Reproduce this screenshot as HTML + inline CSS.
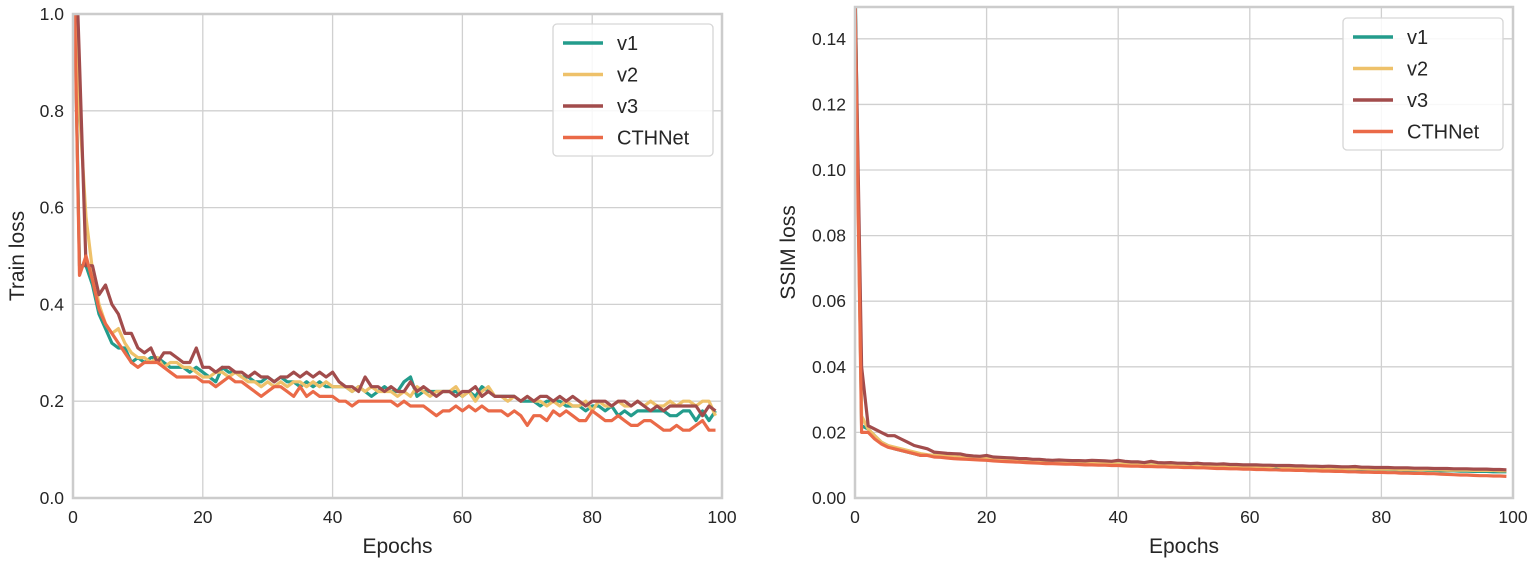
<!DOCTYPE html>
<html><head><meta charset="utf-8"><style>
body{margin:0;background:#fff;}
svg text{font-family:"Liberation Sans",sans-serif;fill:#262626;}
</style></head><body>
<svg id="chart" width="1535" height="562" xmlns="http://www.w3.org/2000/svg"></svg>
<script>
const epochs=[];for(let i=0;i<100;i++)epochs.push(i);
const seriesNames=["v1","v2","v3","CTHNet"];
const colors=["#239c8c","#eec16a","#a24c4c","#ea6a48"];
const trainV1=[1.2,0.48,0.48,0.44,0.38,0.35,0.32,0.31,0.31,0.28,0.29,0.28,0.29,0.29,0.28,0.27,0.27,0.27,0.26,0.27,0.26,0.25,0.24,0.27,0.26,0.26,0.25,0.25,0.24,0.24,0.25,0.24,0.25,0.24,0.24,0.23,0.24,0.23,0.24,0.23,0.23,0.23,0.23,0.22,0.23,0.22,0.21,0.22,0.23,0.22,0.22,0.24,0.25,0.21,0.22,0.22,0.22,0.22,0.22,0.22,0.21,0.22,0.21,0.23,0.22,0.21,0.21,0.21,0.21,0.20,0.20,0.20,0.19,0.20,0.20,0.20,0.19,0.19,0.19,0.18,0.19,0.19,0.18,0.19,0.17,0.18,0.17,0.18,0.18,0.18,0.18,0.18,0.17,0.17,0.18,0.18,0.16,0.18,0.16,0.18];
const trainV2=[1.3,0.8,0.58,0.47,0.40,0.36,0.34,0.35,0.32,0.30,0.29,0.29,0.28,0.29,0.27,0.28,0.28,0.27,0.27,0.26,0.25,0.25,0.26,0.26,0.25,0.26,0.25,0.24,0.24,0.23,0.24,0.23,0.24,0.23,0.24,0.24,0.23,0.24,0.23,0.24,0.23,0.23,0.23,0.22,0.23,0.22,0.23,0.22,0.22,0.22,0.21,0.22,0.21,0.23,0.22,0.21,0.22,0.22,0.22,0.23,0.21,0.22,0.20,0.22,0.23,0.21,0.21,0.20,0.21,0.20,0.21,0.20,0.20,0.19,0.20,0.19,0.20,0.19,0.19,0.20,0.18,0.20,0.19,0.19,0.20,0.19,0.19,0.20,0.19,0.20,0.19,0.19,0.20,0.19,0.20,0.20,0.19,0.20,0.20,0.17];
const trainV3=[1.3,0.9,0.48,0.48,0.42,0.44,0.40,0.38,0.34,0.34,0.31,0.30,0.31,0.28,0.30,0.30,0.29,0.28,0.28,0.31,0.27,0.27,0.26,0.27,0.27,0.26,0.26,0.25,0.26,0.25,0.25,0.24,0.25,0.25,0.26,0.25,0.26,0.25,0.26,0.25,0.26,0.24,0.23,0.23,0.22,0.25,0.23,0.23,0.22,0.23,0.22,0.22,0.24,0.22,0.23,0.22,0.21,0.22,0.22,0.21,0.22,0.22,0.23,0.21,0.22,0.21,0.21,0.21,0.21,0.20,0.21,0.20,0.21,0.21,0.20,0.21,0.20,0.21,0.20,0.19,0.20,0.20,0.20,0.19,0.20,0.20,0.19,0.20,0.19,0.18,0.19,0.18,0.19,0.19,0.19,0.19,0.19,0.17,0.19,0.18];
const trainCTH=[1.2,0.46,0.50,0.45,0.39,0.36,0.34,0.32,0.30,0.28,0.27,0.28,0.28,0.28,0.27,0.26,0.25,0.25,0.25,0.25,0.24,0.24,0.23,0.24,0.25,0.24,0.24,0.23,0.22,0.21,0.22,0.23,0.23,0.22,0.21,0.23,0.21,0.22,0.21,0.21,0.21,0.20,0.20,0.19,0.20,0.20,0.20,0.20,0.20,0.20,0.19,0.20,0.19,0.19,0.19,0.18,0.17,0.18,0.18,0.19,0.18,0.19,0.18,0.19,0.18,0.18,0.18,0.17,0.18,0.17,0.15,0.17,0.17,0.16,0.18,0.17,0.18,0.17,0.16,0.16,0.18,0.17,0.16,0.16,0.17,0.16,0.15,0.15,0.16,0.16,0.15,0.14,0.14,0.15,0.14,0.14,0.15,0.16,0.14,0.14];
const ssimV1=[0.16,0.022,0.021,0.019,0.017,0.016,0.015,0.0145,0.014,0.0135,0.013,0.013,0.013,0.0128,0.0125,0.0125,0.012,0.012,0.012,0.012,0.0118,0.0118,0.0115,0.0115,0.0115,0.011,0.0112,0.0112,0.011,0.0108,0.011,0.0108,0.0108,0.0106,0.0108,0.0106,0.0106,0.0105,0.0105,0.0105,0.0104,0.0103,0.0103,0.0102,0.0102,0.0101,0.0101,0.01,0.01,0.01,0.0099,0.0099,0.0105,0.0098,0.0098,0.0097,0.0097,0.0096,0.0096,0.0096,0.0095,0.0095,0.0095,0.0094,0.0094,0.0093,0.0093,0.0092,0.0092,0.0092,0.0091,0.0091,0.009,0.009,0.009,0.0089,0.0089,0.0088,0.0088,0.0088,0.0087,0.0087,0.0086,0.0086,0.0085,0.0085,0.0085,0.0084,0.0084,0.0083,0.0083,0.0083,0.0082,0.0082,0.0081,0.0081,0.0081,0.008,0.008,0.008];
const ssimV2=[0.15,0.025,0.021,0.019,0.017,0.016,0.0155,0.015,0.0145,0.014,0.0135,0.0132,0.013,0.013,0.0128,0.0126,0.0124,0.0122,0.0122,0.012,0.012,0.0118,0.0117,0.0116,0.0115,0.0114,0.0113,0.0112,0.0112,0.011,0.011,0.011,0.0109,0.0108,0.0108,0.0107,0.0106,0.0106,0.0105,0.0105,0.0104,0.0103,0.0103,0.0102,0.0102,0.0101,0.0101,0.01,0.01,0.01,0.0099,0.0099,0.0098,0.0098,0.0098,0.0097,0.0097,0.0097,0.0096,0.0096,0.0095,0.0095,0.0095,0.0094,0.0098,0.0094,0.0093,0.0093,0.0092,0.0092,0.0092,0.0091,0.0091,0.0091,0.009,0.009,0.009,0.009,0.0089,0.0089,0.0088,0.0088,0.0088,0.0087,0.0087,0.0087,0.0086,0.0086,0.0086,0.0086,0.0085,0.0085,0.0085,0.0085,0.0084,0.0084,0.0084,0.0084,0.0083,0.0083];
const ssimV3=[0.155,0.04,0.022,0.021,0.02,0.019,0.019,0.018,0.017,0.016,0.0155,0.015,0.014,0.0138,0.0136,0.0135,0.0134,0.013,0.0128,0.0127,0.013,0.0125,0.0124,0.0123,0.0122,0.012,0.012,0.0118,0.0118,0.0116,0.0115,0.0116,0.0115,0.0114,0.0114,0.0113,0.0115,0.0114,0.0113,0.0112,0.0115,0.0112,0.011,0.011,0.0108,0.0112,0.0108,0.0107,0.0108,0.0106,0.0106,0.0105,0.0106,0.0104,0.0104,0.0103,0.0104,0.0102,0.0102,0.0101,0.0101,0.0101,0.01,0.01,0.0099,0.0099,0.0099,0.0098,0.0098,0.0097,0.0097,0.0096,0.0097,0.0096,0.0095,0.0095,0.0096,0.0094,0.0094,0.0093,0.0093,0.0093,0.0092,0.0092,0.0092,0.0091,0.0091,0.0091,0.009,0.009,0.009,0.0089,0.0089,0.0089,0.0088,0.0088,0.0088,0.0087,0.0087,0.0086];
const ssimCTH=[0.15,0.02,0.02,0.018,0.0165,0.0155,0.015,0.0145,0.014,0.0135,0.013,0.013,0.0125,0.0124,0.0122,0.012,0.0119,0.0118,0.0117,0.0116,0.0115,0.0113,0.0112,0.0111,0.011,0.0109,0.0108,0.0107,0.0106,0.0105,0.0105,0.0104,0.0103,0.0103,0.0102,0.0101,0.0101,0.01,0.01,0.0099,0.0099,0.0098,0.0097,0.0097,0.0096,0.0096,0.0095,0.0095,0.0094,0.0094,0.0093,0.0093,0.0092,0.0092,0.0091,0.009,0.009,0.0089,0.0089,0.0088,0.0088,0.0087,0.0087,0.0086,0.0086,0.0085,0.0085,0.0084,0.0084,0.0083,0.0083,0.0082,0.0082,0.0081,0.0081,0.008,0.008,0.0079,0.0079,0.0078,0.0078,0.0077,0.0077,0.0076,0.0076,0.0075,0.0075,0.0074,0.0074,0.0073,0.0072,0.0071,0.007,0.007,0.0069,0.0068,0.0068,0.0067,0.0067,0.0066];
const xTicks=[0,20,40,60,80,100];
const yTicksL=[0.0,0.2,0.4,0.6,0.8,1.0];
const yTicksR=[0.00,0.02,0.04,0.06,0.08,0.10,0.12,0.14];

const NS="http://www.w3.org/2000/svg";
const svg=document.getElementById('chart');
function mk(tag,attrs,parent){const e=document.createElementNS(NS,tag);for(const k in attrs)e.setAttribute(k,attrs[k]);(parent||svg).appendChild(e);return e;}

function drawPanel(p){
  const g=mk('g',{});
  
  
  const sx=v=>p.x0+(v-0)/(100-0)*(p.x1-p.x0);
  const sy=v=>p.y1-(v-0)/(p.ymax)*(p.y1-p.y0);
  const cp=mk('clipPath',{id:p.name+'-clip'},g);
  mk('rect',{x:p.x0,y:p.y0,width:p.x1-p.x0,height:p.y1-p.y0},cp);
  xTicks.forEach(t=>{
    const l=mk('line',{x1:sx(t),x2:sx(t),y1:p.y0,y2:p.y1,stroke:'#d0d0d0','stroke-width':1.3},g);
    
    
    const tx=mk('text',{x:sx(t),y:p.y1+25,'text-anchor':'middle','font-size':17.5},g);
    tx.textContent=t;
    
    
  });
  p.yTicks.forEach(t=>{
    const l=mk('line',{x1:p.x0,x2:p.x1,y1:sy(t),y2:sy(t),stroke:'#d0d0d0','stroke-width':1.3},g);
    
    
    const tx=mk('text',{x:p.x0-9,y:sy(t)+6,'text-anchor':'end','font-size':17.5},g);
    tx.textContent=t.toFixed(p.dec);
    
    
  });
  p.series.forEach((s,i)=>{
    const d=s.map((v,j)=>(j?'L':'M')+sx(epochs[j]).toFixed(1)+','+sy(v).toFixed(1)).join(' ');
    const path=mk('path',{d:d,fill:'none',stroke:colors[i],'stroke-width':3.2,'stroke-linejoin':'round','clip-path':'url(#'+p.name+'-clip)'},g);
    
    
  });
  const fr=mk('rect',{x:p.x0,y:p.y0,width:p.x1-p.x0,height:p.y1-p.y0,fill:'none',stroke:'#cccccc','stroke-width':2.5},g);
  
  
  const xl=mk('text',{x:(p.x0+p.x1)/2,y:p.y1+55,'text-anchor':'middle','font-size':21},g);
  xl.textContent='Epochs';
  
  
  const yl=mk('text',{x:0,y:0,'text-anchor':'middle','font-size':21,transform:'translate('+p.ylx+','+((p.y0+p.y1)/2)+') rotate(-90)'},g);
  yl.textContent=p.ylabel;
  
  
  const lg=mk('g',{},g);
  
  
  mk('rect',{x:p.lx,y:p.ly,width:160,height:132,rx:4,fill:'#fff','fill-opacity':0.85,stroke:'#d6d6d6','stroke-width':1.3},lg);
  seriesNames.forEach((n,i)=>{
    const yy=p.ly+19+i*31.5;
    const e=mk('g',{},lg);
    
    
    mk('line',{x1:p.lx+10,x2:p.lx+50,y1:yy,y2:yy,stroke:colors[i],'stroke-width':3.5},e);
    const t=mk('text',{x:p.lx+64,y:yy+7,'font-size':20},e);
    t.textContent=n;
  });
}
drawPanel({name:'train-loss-panel',x0:73,x1:722,y0:14,y1:498,ymax:1.0,yTicks:yTicksL,dec:1,ylabel:'Train loss',ylx:24,lx:553,ly:24,series:[trainV1,trainV2,trainV3,trainCTH]});
drawPanel({name:'ssim-loss-panel',x0:855,x1:1513,y0:7,y1:498,ymax:0.1497,yTicks:yTicksR,dec:2,ylabel:'SSIM loss',ylx:795,lx:1343,ly:18,series:[ssimV1,ssimV2,ssimV3,ssimCTH]});
</script>
</body></html>
